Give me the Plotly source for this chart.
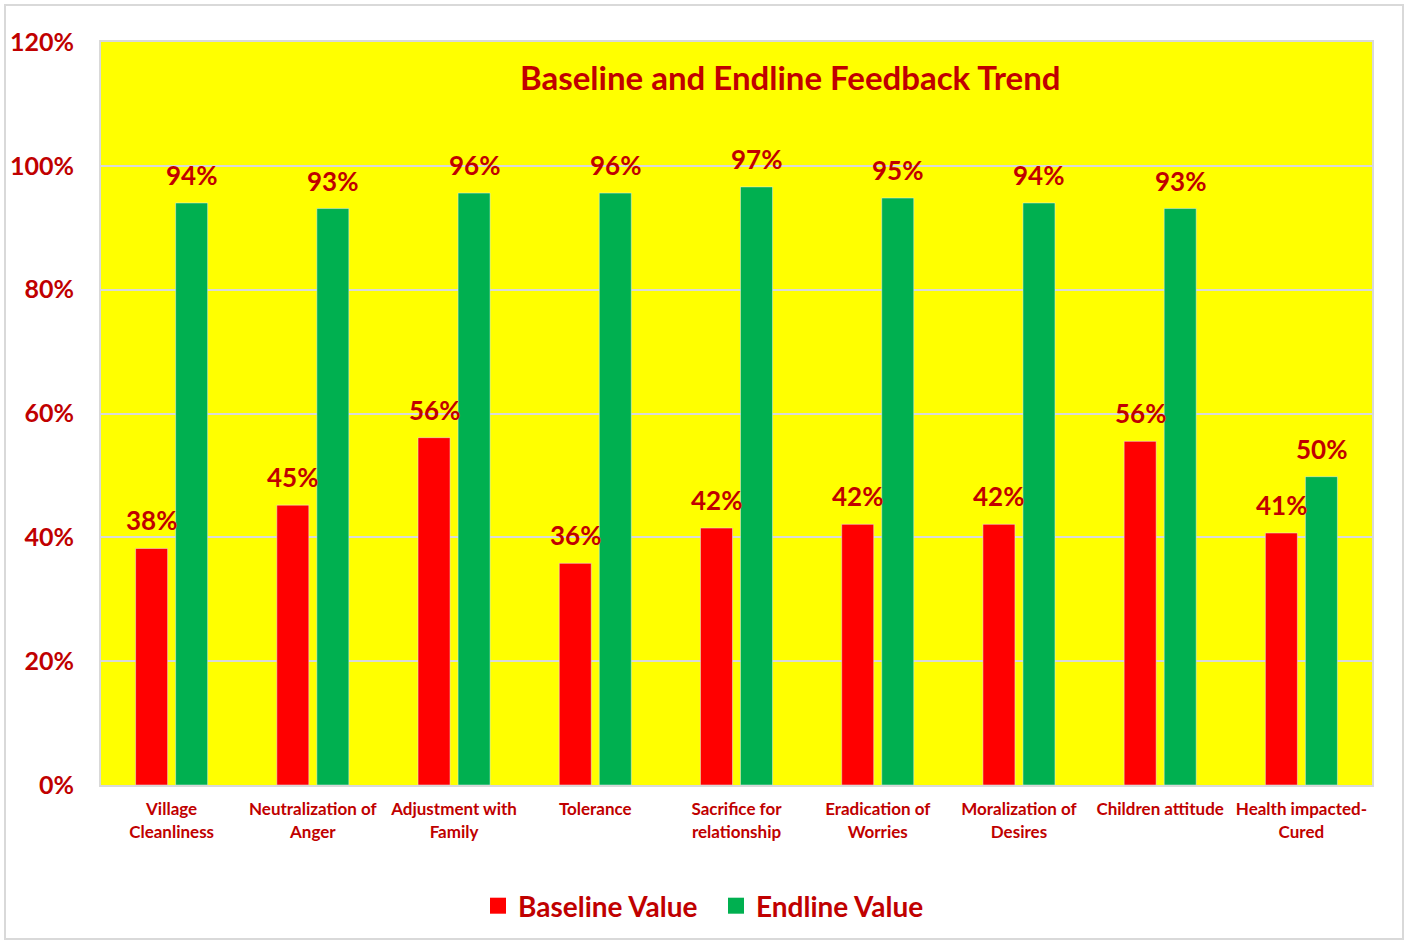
import plotly.graph_objects as go

categories = ["Village<br>Cleanliness", "Neutralization of<br>Anger", "Adjustment with<br>Family",
              "Tolerance", "Sacrifice for<br>relationship", "Eradication of<br>Worries",
              "Moralization of<br>Desires", "Children attitude", "Health impacted-<br>Cured"]
baseline = [0.382, 0.452, 0.561, 0.358, 0.415, 0.421, 0.421, 0.555, 0.407]
endline = [0.940, 0.931, 0.956, 0.956, 0.966, 0.948, 0.940, 0.931, 0.498]
y_ticks = [0, 0.2, 0.4, 0.6, 0.8, 1.0, 1.2]

DARK_RED = "#C00000"
RED = "#FF0000"
GREEN = "#00B050"
FONT = "Lato"

fig = go.Figure()
fig.add_trace(go.Bar(x=categories, y=baseline, name="Baseline Value", marker_color=RED,
                     showlegend=False))
fig.add_trace(go.Bar(x=categories, y=endline, name="Endline Value", marker_color=GREEN,
                     showlegend=False))
# legend entries with larger square swatches
for nm, col in [("Baseline Value", RED), ("Endline Value", GREEN)]:
    fig.add_trace(go.Scatter(x=[None], y=[None], mode="markers", name=nm,
                             marker=dict(symbol="square", size=17, color=col)))

# data labels
label_font = dict(family=FONT, size=26, color=DARK_RED, weight="bold")
for series, shift in [(baseline, -20), (endline, 20)]:
    for c, v in zip(categories, series):
        fig.add_annotation(x=c, y=v, text=f"{v:.0%}", showarrow=False, xshift=shift,
                           yanchor="bottom", yshift=10, font=label_font)

W, H = 1411, 941
L, R, T, B = 101, 39, 42, 156
pw, ph = W - L - R, H - T - B

def px_x(x):
    return (x - L) / pw

def px_y(y):
    return (H - B - y) / ph

fig.update_layout(
    width=W, height=H,
    margin=dict(l=L, r=R, t=T, b=B, autoexpand=False),
    paper_bgcolor="white",
    plot_bgcolor="#FFFF00",
    barmode="group",
    bargap=0.433,
    bargroupgap=0.2,
    showlegend=True,
    legend=dict(orientation="h", x=px_x(716), xanchor="center", y=px_y(906), yanchor="middle",
                font=dict(family=FONT, size=28, color=DARK_RED, weight="bold"),
                itemwidth=30, entrywidth=193, traceorder="normal"),
    font=dict(family=FONT, color=DARK_RED),
)
fig.update_xaxes(
    tickfont=dict(family=FONT, size=17, color=DARK_RED, weight="bold"),
    showline=True, linecolor="#D9D9D9", linewidth=2, mirror=True,
    ticks="", showgrid=False, ticklabelstandoff=8, automargin=False,
)
fig.update_yaxes(
    range=[0, 1.2], tickvals=y_ticks, tickformat=".0%",
    tickfont=dict(family=FONT, size=25, color=DARK_RED, weight="bold"),
    showgrid=True, gridcolor="#D9D9D9", gridwidth=2,
    showline=True, linecolor="#D9D9D9", linewidth=2, mirror=True,
    zeroline=False, ticklabelstandoff=20, automargin=False,
)
fig.add_annotation(text="Baseline and Endline Feedback Trend", xref="paper", yref="paper",
                   x=px_x(790), y=px_y(77), xanchor="center", yanchor="middle", showarrow=False,
                   font=dict(family=FONT, size=33, color=DARK_RED, weight="bold"))
fig.add_shape(type="rect", xref="paper", yref="paper",
              x0=px_x(5), x1=px_x(1403), y0=px_y(939), y1=px_y(5),
              line=dict(color="#D9D9D9", width=2), layer="below")

fig.write_html("out.html", config={"displayModeBar": False},
               post_script="document.body.style.margin='0';")
